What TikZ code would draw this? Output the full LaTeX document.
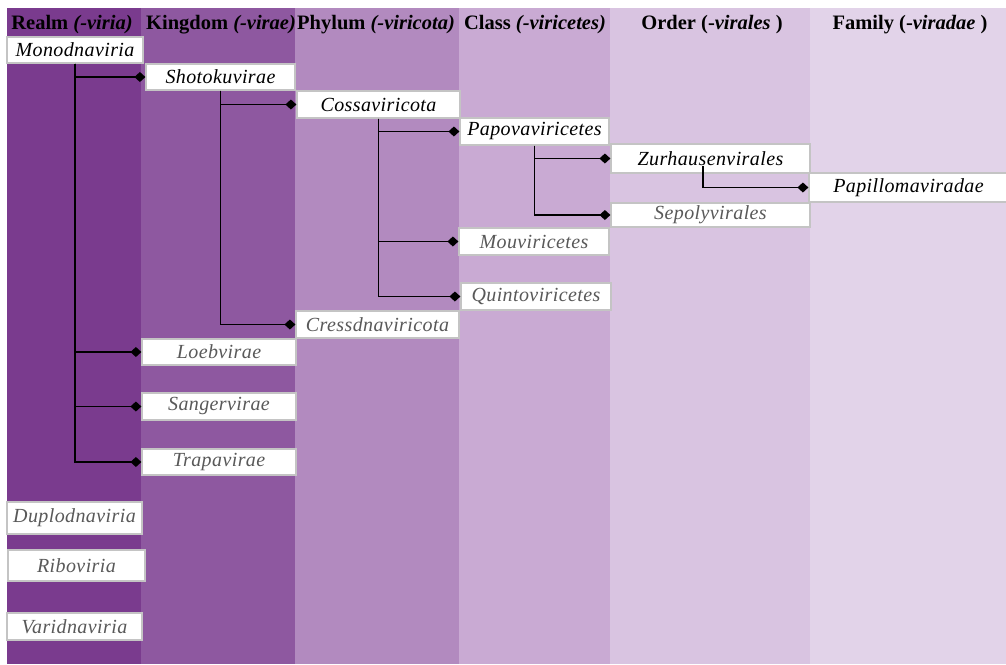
\documentclass[tikz,border=0pt]{standalone}
\usepackage{fontspec}
\setmainfont{Liberation Serif}
\newfontfamily\taxfont[LetterSpace=2]{Liberation Serif}
\usetikzlibrary{arrows.meta}

\definecolor{cRealm}{HTML}{7A3B8E}
\definecolor{cKingdom}{HTML}{8E58A0}
\definecolor{cPhylum}{HTML}{B28ABF}
\definecolor{cClass}{HTML}{C9AAD3}
\definecolor{cOrder}{HTML}{D9C4E1}
\definecolor{cFamily}{HTML}{E2D3E9}
\definecolor{boxline}{HTML}{C4C4C4}
\definecolor{greytext}{HTML}{595959}

\tikzset{
  taxon/.style={draw=boxline, line width=1.2pt, fill=white, inner sep=0pt,
    font=\taxfont\itshape\fontsize{20}{22}\selectfont},
  known/.style={taxon, text=black},
  other/.style={taxon, text=greytext},
  rankhead/.style={font=\bfseries\fontsize{20.5}{23}\selectfont, text=black, inner sep=0pt},
  branch/.style={line width=1.7pt, black, -{Diamond[length=11pt,width=10pt]}},
}

\begin{document}
\begin{tikzpicture}[x=1pt,y=-1pt]
\useasboundingbox (0,0) rectangle (1006,664);
\fill[white] (0,0) rectangle (1006,664);

% rank columns
\fill[cRealm]   (7,8)   rectangle (141,664);
\fill[cKingdom] (141,8) rectangle (295,664);
\fill[cPhylum]  (295,8) rectangle (459,664);
\fill[cClass]   (459,8) rectangle (610,664);
\fill[cOrder]   (610,8) rectangle (810,664);
\fill[cFamily]  (810,8) rectangle (1006,664);

% column headings
\node[rankhead] (hRealm)   at (72,25)  {Realm \textit{(-viria)}};
\node[rankhead] (hKingdom) at (221,25) {Kingdom \textit{(-virae)}};
\node[rankhead] (hPhylum)  at (376,25) {Phylum \textit{(-viricota)}};
\node[rankhead] (hClass)   at (535,25) {Class \textit{(-viricetes)}};
\node[rankhead] (hOrder)   at (712,25) {Order (-\textit{virales} )};
\node[rankhead] (hFamily)  at (910,25) {Family (-\textit{viradae} )};

% taxa
\node[known, minimum width=136pt, minimum height=26pt] (mono)   at (75,50)      {Monodnaviria};
\node[known, minimum width=149pt, minimum height=26pt] (shoto)  at (220.5,77)   {Shotokuvirae};
\node[known, minimum width=163pt, minimum height=27pt] (cossa)  at (378.5,104.5) {Cossaviricota};
\node[known, minimum width=149pt, minimum height=27pt] (papova) at (534.5,131.5) {Papovaviricetes};
\node[known, minimum width=199pt, minimum height=29pt] (zur)    at (710.5,158.5) {Zurhausenvirales};
\node[known, minimum width=199pt, minimum height=29pt] (papil)  at (908.5,187.5) {Papillomaviradae};
\node[other, minimum width=199pt, minimum height=24pt] (sepoly) at (710.5,215)   {Sepolyvirales};
\node[other, minimum width=150pt, minimum height=27pt] (mouvi)  at (534,241.5)   {Mouviricetes};
\node[other, minimum width=150pt, minimum height=27pt] (quinto) at (536,296.5)   {Quintoviricetes};
\node[other, minimum width=163pt, minimum height=27pt] (cress)  at (377.5,324.5) {Cressdnaviricota};
\node[other, minimum width=154pt, minimum height=26pt] (loeb)   at (219,352)     {Loebvirae};
\node[other, minimum width=154pt, minimum height=27pt] (sanger) at (219,406.5)   {Sangervirae};
\node[other, minimum width=154pt, minimum height=26pt] (trapa)  at (219,462)     {Trapavirae};
\node[other, minimum width=135pt, minimum height=32pt] (duplo)  at (74.5,518)    {Duplodnaviria};
\node[other, minimum width=137pt, minimum height=31pt] (ribo)   at (76.5,565.5)  {Riboviria};
\node[other, minimum width=135pt, minimum height=27pt] (varid)  at (74.5,626.5)  {Varidnaviria};

% lineage connectors
\draw[branch] (mono.south) |- (shoto.west);
\draw[branch] (mono.south) |- (loeb.west);
\draw[branch] (mono.south) |- (sanger.west);
\draw[branch] (mono.south) |- (trapa.west);

\draw[branch] (shoto.south) |- (cossa.west);
\draw[branch] (shoto.south) |- (cress.west);

\draw[branch] (cossa.south) |- (papova.west);
\draw[branch] (cossa.south) |- (mouvi.west);
\draw[branch] (cossa.south) |- (quinto.west);

\draw[branch] (papova.south) |- (zur.west);
\draw[branch] (papova.south) |- (sepoly.west);

\coordinate (zurfoot) at ([xshift=-7.5pt,yshift=8pt]zur.south);
\draw[branch] (zurfoot) |- (papil.west);
\end{tikzpicture}
\end{document}
